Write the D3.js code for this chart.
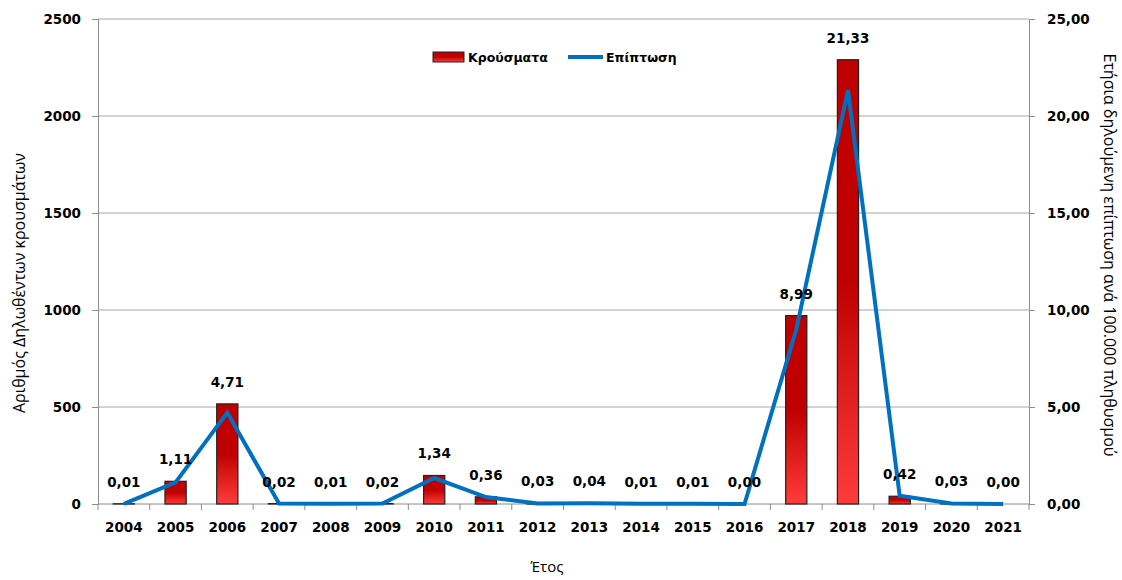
<!DOCTYPE html>
<html>
<head>
<meta charset="utf-8">
<script src="https://cdn.jsdelivr.net/npm/d3@7"></script>
<style>
  body { margin: 0; background: #fff; }
  svg { display: block; }
</style>
</head>
<body>
<svg id="chart" width="1122" height="580"></svg>
<script>
const years = ["2004","2005","2006","2007","2008","2009","2010","2011","2012","2013","2014","2015","2016","2017","2018","2019","2020","2021"];
const cases = [1, 117, 516, 2, 1, 2, 147, 37, 3, 4, 1, 1, 0, 971, 2290, 40, 3, 0];
const rates = [0.01, 1.11, 4.71, 0.02, 0.01, 0.02, 1.34, 0.36, 0.03, 0.04, 0.01, 0.01, 0.00, 8.99, 21.33, 0.42, 0.03, 0.00];
const leftTicks = [0, 500, 1000, 1500, 2000, 2500];
const rightTicks = [0, 5, 10, 15, 20, 25];

const data = years.map((y, i) => ({ year: y, cases: cases[i], rate: rates[i] }));

const svg = d3.select("#chart");
const margin = { top: 19, right: 93, bottom: 76, left: 98 };
const width = 1122 - margin.left - margin.right;
const height = 580 - margin.top - margin.bottom;

const greek = d3.formatLocale({ decimal: ",", thousands: ".", grouping: [3], currency: ["", "€"] });
const fmt2 = greek.format(".2f");

const boldFont = "DejaVu Sans, Verdana, sans-serif";
const textFont = "Open Sans, Noto Sans, sans-serif";

const x = d3.scaleBand().domain(years).range([0, width]).padding(0);
const yL = d3.scaleLinear().domain([0, 2500]).range([height, 0]);
const yR = d3.scaleLinear().domain([0, 25]).range([height, 0]);

// bar gradient
const defs = svg.append("defs");
const grad = defs.append("linearGradient")
    .attr("id", "barGrad")
    .attr("x1", 0).attr("y1", 0).attr("x2", 0).attr("y2", 1);
grad.append("stop").attr("offset", "0%").attr("stop-color", "#c00000");
grad.append("stop").attr("offset", "50%").attr("stop-color", "#c00000");
grad.append("stop").attr("offset", "100%").attr("stop-color", "#ff3c3c");

const g = svg.append("g").attr("transform", `translate(${margin.left},${margin.top})`);

// gridlines
g.selectAll(".grid")
 .data(leftTicks.filter(d => d > 0))
 .enter()
 .append("line")
 .attr("class", "grid")
 .attr("x1", 0)
 .attr("x2", width)
 .attr("y1", d => yL(d))
 .attr("y2", d => yL(d))
 .attr("stroke", "#a6a6a6")
 .attr("stroke-width", 1);

const styleTicks = sel => sel
    .style("font-family", boldFont)
    .style("font-weight", "bold")
    .style("font-size", "13.5px")
    .attr("fill", "#000");

// left axis
const axL = g.append("g")
    .call(d3.axisLeft(yL).tickValues(leftTicks).tickSize(6).tickPadding(11).tickFormat(d3.format("d")));
axL.select(".domain").attr("stroke", "#8c8c8c");
axL.selectAll(".tick line").attr("stroke", "#8c8c8c");
styleTicks(axL.selectAll(".tick text"));

// right axis
const axR = g.append("g")
    .attr("transform", `translate(${width},0)`)
    .call(d3.axisRight(yR).tickValues(rightTicks).tickSize(6).tickPadding(12).tickFormat(fmt2));
axR.select(".domain").attr("stroke", "#8c8c8c");
axR.selectAll(".tick line").attr("stroke", "#8c8c8c");
styleTicks(axR.selectAll(".tick text"));

// x axis: ticks at category boundaries
const axX = g.append("g").attr("transform", `translate(0,${height})`);
axX.append("line")
   .attr("x1", 0).attr("x2", width)
   .attr("stroke", "#8c8c8c");
const bounds = years.map(d => x(d)).concat([width]);
axX.selectAll(".xtick")
   .data(bounds)
   .enter()
   .append("line")
   .attr("x1", d => d).attr("x2", d => d)
   .attr("y1", 0).attr("y2", 6)
   .attr("stroke", "#8c8c8c");
styleTicks(axX.selectAll(".xlabel")
   .data(years)
   .enter()
   .append("text")
   .attr("x", d => x(d) + x.bandwidth() / 2)
   .attr("y", 28)
   .attr("text-anchor", "middle")
   .text(d => d));

// bars
const barW = x.bandwidth() * 0.41;
g.selectAll(".bar")
 .data(data)
 .enter()
 .append("rect")
 .attr("class", "bar")
 .attr("x", d => x(d.year) + (x.bandwidth() - barW) / 2)
 .attr("y", d => yL(d.cases))
 .attr("width", barW)
 .attr("height", d => height - yL(d.cases))
 .attr("fill", "url(#barGrad)")
 .attr("stroke", "#222")
 .attr("stroke-width", 1.2);

// incidence line
const line = d3.line()
    .x(d => x(d.year) + x.bandwidth() / 2)
    .y(d => yR(d.rate));
g.append("path")
 .datum(data)
 .attr("d", line)
 .attr("fill", "none")
 .attr("stroke", "#0070c0")
 .attr("stroke-width", 4)
 .attr("stroke-linejoin", "miter");

// data labels
styleTicks(g.selectAll(".dlabel")
 .data(data)
 .enter()
 .append("text")
 .attr("class", "dlabel")
 .attr("x", d => x(d.year) + x.bandwidth() / 2)
 .attr("y", d => Math.min(yL(d.cases), yR(d.rate)) - 17)
 .attr("text-anchor", "middle")
 .text(d => fmt2(d.rate)));

// legend
const leg = svg.append("g");
leg.append("rect")
   .attr("x", 433).attr("y", 52)
   .attr("width", 31).attr("height", 10)
   .attr("fill", "url(#barGrad)")
   .attr("stroke", "#222");
leg.append("text")
   .attr("x", 468).attr("y", 62)
   .style("font-family", boldFont)
   .style("font-weight", "bold")
   .style("font-size", "12.5px")
   .text("Κρούσματα");
leg.append("line")
   .attr("x1", 568).attr("x2", 603)
   .attr("y1", 57).attr("y2", 57)
   .attr("stroke", "#0070c0")
   .attr("stroke-width", 4);
leg.append("text")
   .attr("x", 606).attr("y", 62)
   .style("font-family", boldFont)
   .style("font-weight", "bold")
   .style("font-size", "12.5px")
   .text("Επίπτωση");

// axis titles
svg.append("text")
   .attr("transform", "translate(25,283) rotate(-90)")
   .attr("text-anchor", "middle")
   .style("font-family", textFont)
   .style("font-size", "16px")
   .text("Αριθμός Δηλωθέντων κρουσμάτων");

svg.append("text")
   .attr("transform", "translate(1104,255) rotate(90)")
   .attr("text-anchor", "middle")
   .style("font-family", textFont)
   .style("font-size", "16px")
   .text("Ετήσια δηλούμενη επίπτωση ανά 100.000 πληθυσμού");

svg.append("text")
   .attr("x", 547)
   .attr("y", 572)
   .attr("text-anchor", "middle")
   .style("font-family", textFont)
   .style("font-size", "15px")
   .text("Έτος");
</script>
</body>
</html>
